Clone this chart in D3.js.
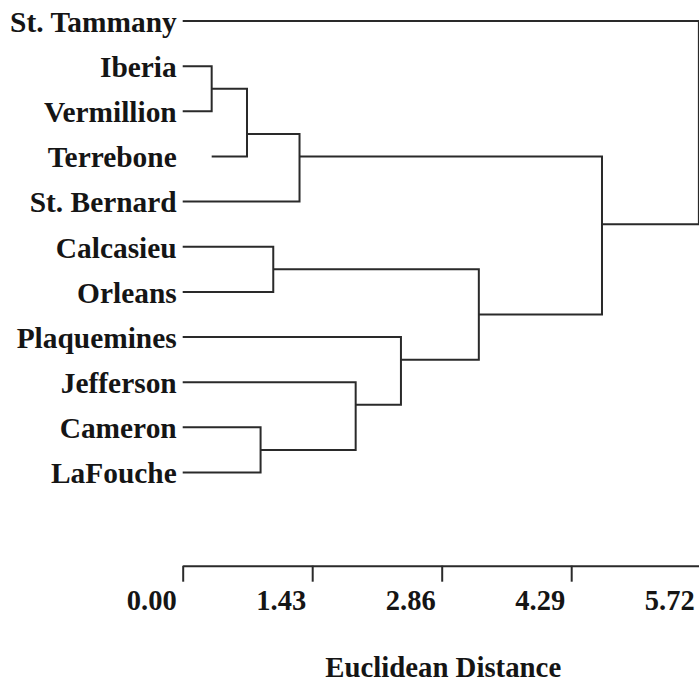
<!DOCTYPE html>
<html>
<head>
<meta charset="utf-8">
<script src="https://cdn.jsdelivr.net/npm/d3@7/dist/d3.min.js"></script>
<style>
  html, body { margin: 0; padding: 0; background: #fff; }
  svg { display: block; }
  text { font-family: "Liberation Serif", "Times New Roman", serif; font-weight: bold; fill: #151515; }
</style>
</head>
<body>
<svg id="chart" width="699" height="684"></svg>
<script>
// ---- data ----
const leaves = ["St. Tammany", "Iberia", "Vermillion", "Terrebone", "St. Bernard",
                "Calcasieu", "Orleans", "Plaquemines", "Jefferson", "Cameron", "LaFouche"];
// distance at which each leaf's line begins (Terrebone's is drawn from the first join)
const leafStart = [0, 0, 0, 0.32, 0, 0, 0, 0, 0, 0, 0];

// agglomeration steps
const mergeIds      = ["A", "B", "C", "D", "E", "F", "G", "H", "I", "J"];
const mergeLeft     = ["Iberia", "A", "B", "Calcasieu", "Cameron", "Jefferson", "Plaquemines", "D", "C", "St. Tammany"];
const mergeRight    = ["Vermillion", "Terrebone", "St. Bernard", "Orleans", "LaFouche", "E", "F", "G", "H", "I"];
const mergeDistance = [0.32, 0.71, 1.29, 1.00, 0.86, 1.91, 2.41, 3.27, 4.63, 5.70];
// row (in leaf-index units) where each cluster is drawn
const mergeRow      = [1.5, 2.5, 3.0, 5.5, 9.5, 8.5, 7.5, 6.5, 4.5, 2.0];

const tickValues = [0.00, 1.43, 2.86, 4.29, 5.72];
const axisTitle = "Euclidean Distance";

// ---- scales ----
const svg = d3.select("#chart");
const x = d3.scaleLinear().domain([0, 5.72]).range([182.7, 700.7]);
const y = d3.scaleLinear().domain([0, leaves.length - 1]).range([21, 472.5]);

// node lookup
const nodes = new Map();
leaves.forEach((name, i) => nodes.set(name, { row: i, start: leafStart[i] }));
mergeIds.forEach((id, i) => nodes.set(id, { row: mergeRow[i], start: mergeDistance[i] }));

// ---- dendrogram brackets ----
const g = svg.append("g");
g.selectAll("path.bracket")
  .data(mergeIds.map((id, i) => ({ a: nodes.get(mergeLeft[i]), b: nodes.get(mergeRight[i]), d: mergeDistance[i] })))
  .join("path")
  .attr("class", "bracket")
  .attr("fill", "none")
  .attr("stroke", "#2a2a2a")
  .attr("stroke-width", 2)
  .attr("d", m => `M${x(m.a.start)},${y(m.a.row)}H${x(m.d)}V${y(m.b.row)}H${x(m.b.start)}`);

// ---- leaf labels ----
svg.append("g").selectAll("text.leaf")
  .data(leaves)
  .join("text")
  .attr("class", "leaf")
  .attr("x", x(0) - 6)
  .attr("y", (d, i) => y(i) + 10.8)
  .attr("text-anchor", "end")
  .style("font-size", "29.4px")
  .text(d => d);

// ---- axis ----
const axisY = 565.7;
const axis = d3.axisBottom(x)
  .tickValues(tickValues)
  .tickFormat(d3.format(".2f"))
  .tickSize(16)
  .tickSizeOuter(0);
const ax = svg.append("g").attr("transform", `translate(0,${axisY})`).call(axis);
ax.select(".domain").attr("stroke", "#2a2a2a").attr("stroke-width", 2);
ax.selectAll(".tick line").attr("stroke", "#2a2a2a").attr("stroke-width", 2);
ax.selectAll(".tick text")
  .attr("y", 44.3)
  .attr("dy", 0)
  .attr("x", -6.5)
  .attr("text-anchor", "end")
  .attr("fill", "#151515")
  .style("font-family", "'Liberation Serif', 'Times New Roman', serif")
  .style("font-weight", "bold")
  .style("font-size", "28.5px");

svg.append("text")
  .attr("x", (x.range()[0] + x.range()[1]) / 2 + 1.5)
  .attr("y", 677)
  .attr("text-anchor", "middle")
  .style("font-size", "28.8px")
  .text(axisTitle);
</script>
</body>
</html>
